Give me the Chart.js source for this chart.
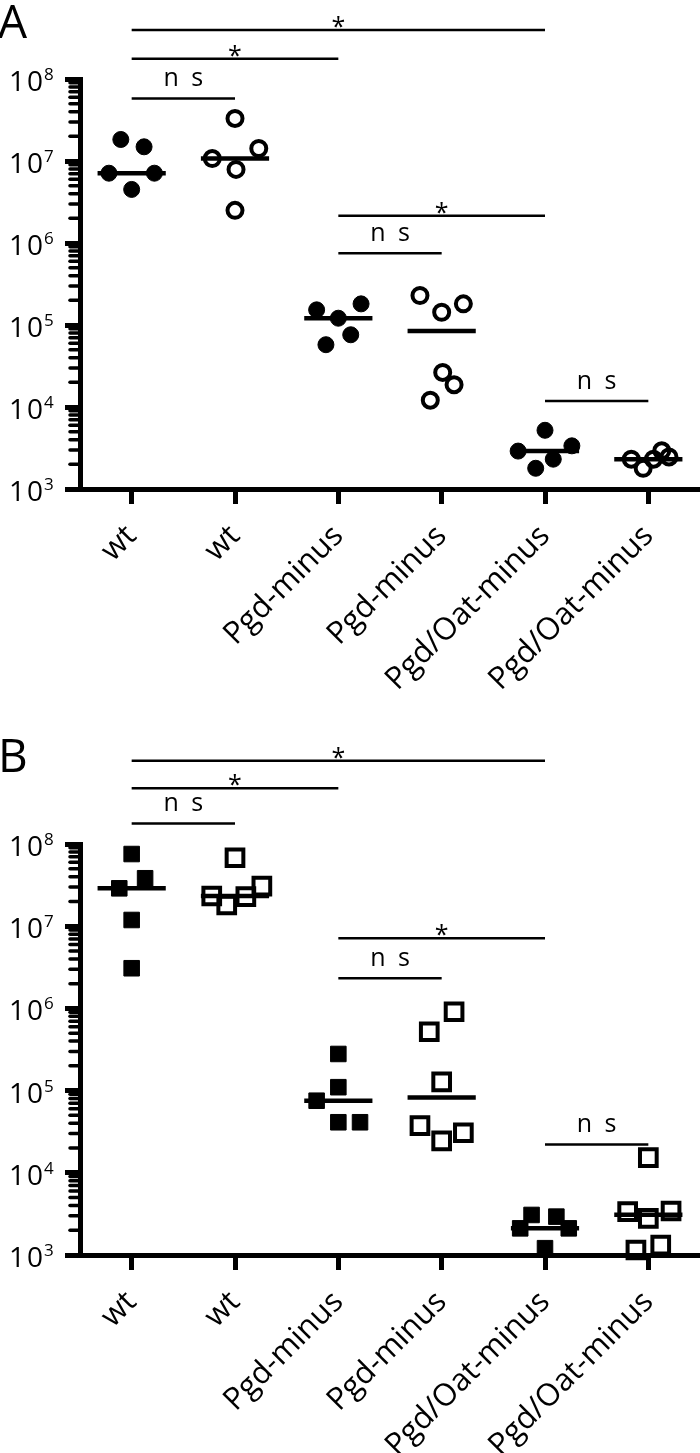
<!DOCTYPE html>
<html>
<head>
<meta charset="utf-8">
<script src="https://cdn.jsdelivr.net/npm/chart.js@4.4.1/dist/chart.umd.min.js"></script>
<style>
  html, body { margin: 0; padding: 0; background: #fff; }
  canvas { display: block; }
</style>
</head>
<body>
<canvas id="chartA" width="700" height="727"></canvas>
<canvas id="chartB" width="700" height="726"></canvas>
<script>
const categories = ['wt', 'wt', 'Pgd-minus', 'Pgd-minus', 'Pgd/Oat-minus', 'Pgd/Oat-minus'];
const yTickValues = [1e3, 1e4, 1e5, 1e6, 1e7, 1e8];

// panel A, circles (filled / open alternate)
const wtFilledA = [1.83e7, 1.49e7, 7.1e6, 7.1e6, 4.5e6];
const wtOpenA = [3.3e7, 1.42e7, 1.07e7, 7.9e6, 2.5e6];
const pgdFilledA = [1.53e5, 1.21e5, 1.81e5, 7.6e4, 5.75e4];
const pgdOpenA = [2.29e5, 1.43e5, 1.81e5, 2.64e4, 1.87e4, 1.21e4];
const pgdOatFilledA = [5.2e3, 2.9e3, 3.36e3, 2.31e3, 1.79e3];
const pgdOatOpenA = [2.31e3, 1.79e3, 2.31e3, 2.92e3, 2.46e3];

// horizontal scatter of the dots, in category widths
const jitterA = [
  [-0.105, 0.12, -0.22, 0.22, 0],
  [0, 0.23, -0.22, 0.01, 0],
  [-0.21, 0, 0.22, 0.12, -0.12],
  [-0.21, 0, 0.21, 0.01, 0.12, -0.11],
  [0, -0.26, 0.26, 0.08, -0.09],
  [-0.165, -0.05, 0.05, 0.13, 0.2]
];

// panel B, squares
const wtFilledB = [7.55e7, 3.83e7, 2.89e7, 1.19e7, 3.08e6];
const wtOpenB = [6.8e7, 2.33e7, 1.81e7, 2.29e7, 3.08e7];
const pgdFilledB = [2.79e5, 1.1e5, 7.53e4, 4.12e4, 4.12e4];
const pgdOpenB = [9.1e5, 5.2e5, 1.28e5, 3.74e4, 2.45e4, 3.07e4];
const pgdOatFilledB = [3.07e3, 2.93e3, 2.11e3, 2.11e3, 1.21e3];
const pgdOatOpenB = [3.37e3, 2.79e3, 3.43e3, 1.53e4, 1.15e3, 1.32e3];

const jitterB = [
  [0, 0.13, -0.12, 0, 0],
  [0, -0.225, -0.08, 0.105, 0.26],
  [0, 0, -0.21, 0, 0.21],
  [0.12, -0.12, 0, -0.21, 0, 0.21],
  [-0.13, 0.11, -0.24, 0.23, 0],
  [-0.2, 0, 0.22, 0, -0.12, 0.12]
];

// significance comparisons (category numbers), their labels and bar heights
const sigPairs = [[1, 5], [1, 3], [1, 2], [3, 5], [3, 4], [5, 6]];
const sigLabels = ['*', '*', 'n s', '*', 'n s', 'n s'];
const sigHeightsA = [3.96e8, 1.77e8, 5.8e7, 2.15e6, 7.5e5, 1.18e4];
const sigHeightsB = [1.03e9, 4.76e8, 1.78e8, 7.13e6, 2.32e6, 2.21e4];

function median(arr) {
  const s = arr.slice().sort((a, b) => a - b);
  const m = Math.floor(s.length / 2);
  return s.length % 2 ? s[m] : (s[m - 1] + s[m]) / 2;
}

function buildDatasets(groups, jitters, shape, heights) {
  const ds = [];
  groups.forEach((vals, i) => {
    const filled = i % 2 === 0;
    let r;
    if (shape === 'circle') r = filled ? 8 : 7.5;
    else r = filled ? 11 : 11.8;
    ds.push({
      data: vals.map((v, j) => ({ x: i + 1 + jitters[i][j], y: v })),
      showLine: false,
      pointStyle: shape,
      pointRadius: r,
      pointBorderWidth: filled ? 1 : 4,
      pointBackgroundColor: filled ? '#000' : 'rgba(0,0,0,0)',
      pointBorderColor: '#000',
      clip: false
    });
    const med = median(vals);
    ds.push({
      data: [{ x: i + 1 - 0.33, y: med }, { x: i + 1 + 0.33, y: med }],
      showLine: true,
      borderColor: '#000',
      borderWidth: 4.5,
      pointRadius: 0,
      clip: false
    });
  });
  sigPairs.forEach((p, i) => {
    ds.push({
      data: [{ x: p[0], y: heights[i] }, { x: p[1], y: heights[i] }],
      showLine: true,
      borderColor: '#000',
      borderWidth: 2.5,
      pointRadius: 0,
      clip: false
    });
  });
  return ds;
}

const decorations = {
  id: 'decorations',
  afterDraw(chart) {
    const ctx = chart.ctx;
    const xs = chart.scales.x;
    const ys = chart.scales.y;
    const opts = chart.options.plugins.decorations;
    const left = chart.chartArea.left;
    ctx.save();
    ctx.fillStyle = '#000';
    ctx.strokeStyle = '#000';

    // minor ticks on the log axis
    ctx.lineWidth = 3.5;
    ctx.lineCap = 'round';
    for (let e = 3; e < 8; e++) {
      for (let k = 2; k <= 9; k++) {
        const py = ys.getPixelForValue(k * Math.pow(10, e));
        ctx.beginPath();
        ctx.moveTo(left - 10, py);
        ctx.lineTo(left - 2, py);
        ctx.stroke();
      }
    }

    // y tick labels 10^n
    yTickValues.forEach(v => {
      const py = ys.getPixelForValue(v);
      ctx.font = '28px "Open Sans"';
      ctx.textAlign = 'right';
      ctx.textBaseline = 'alphabetic';
      ctx.letterSpacing = '2px';
      ctx.fillText('10', 45, py + 12);
      ctx.letterSpacing = '0px';
      ctx.font = '17px "Open Sans"';
      ctx.textAlign = 'left';
      ctx.fillText(String(Math.round(Math.log10(v))), 44, py + 1);
    });

    // significance labels
    sigPairs.forEach((p, i) => {
      const px = xs.getPixelForValue((p[0] + p[1]) / 2);
      const py = ys.getPixelForValue(opts.heights[i]);
      ctx.textAlign = 'center';
      ctx.textBaseline = 'alphabetic';
      ctx.font = '25px "Open Sans"';
      if (sigLabels[i] === '*') {
        ctx.fillText(sigLabels[i], px, py + 5);
      } else {
        ctx.letterSpacing = '3px';
        ctx.fillText(sigLabels[i], px + 1.5, py - 12);
        ctx.letterSpacing = '0px';
      }
    });

    // panel letter
    ctx.font = '46px "Open Sans"';
    ctx.textAlign = 'left';
    ctx.fillText(opts.letter, -2, opts.letterY);
    ctx.restore();
  }
};

function makeChart(id, groups, jitters, shape, heights, letter, letterY, padTop, axisHeight) {
  return new Chart(document.getElementById(id), {
    type: 'scatter',
    data: { datasets: buildDatasets(groups, jitters, shape, heights) },
    options: {
      responsive: false,
      animation: false,
      events: [],
      layout: { autoPadding: false, padding: { top: padTop, left: 0, right: 0, bottom: 0 } },
      plugins: {
        legend: { display: false },
        tooltip: { enabled: false },
        decorations: { heights: heights, letter: letter, letterY: letterY }
      },
      scales: {
        x: {
          type: 'linear',
          min: 0.5,
          max: 6.5,
          afterBuildTicks: scale => {
            scale.ticks = categories.map((c, i) => ({ value: i + 1 }));
          },
          afterFit: scale => {
            scale.height = axisHeight;
            scale.paddingLeft = 0;
            scale.paddingRight = 0;
          },
          ticks: {
            autoSkip: false,
            minRotation: 45,
            maxRotation: 45,
            color: '#000',
            padding: 14,
            font: { family: 'Open Sans', size: 31 },
            callback: v => categories[v - 1]
          },
          grid: { drawOnChartArea: false, drawTicks: true, tickLength: 15, tickWidth: 5, tickColor: '#000' },
          border: { display: true, color: '#000', width: 5 }
        },
        y: {
          type: 'logarithmic',
          min: 1e3,
          max: 1e8,
          afterBuildTicks: scale => {
            scale.ticks = yTickValues.map(v => ({ value: v, major: true }));
          },
          afterFit: scale => { scale.width = 80; },
          ticks: { display: false },
          grid: { drawOnChartArea: false, drawTicks: true, tickLength: 15, tickWidth: 5, tickColor: '#000' },
          border: { display: true, color: '#000', width: 5 }
        }
      }
    },
    plugins: [decorations]
  });
}

makeChart('chartA',
  [wtFilledA, wtOpenA, pgdFilledA, pgdOpenA, pgdOatFilledA, pgdOatOpenA],
  jitterA, 'circle', sigHeightsA, 'A', 38, 79, 238);

makeChart('chartB',
  [wtFilledB, wtOpenB, pgdFilledB, pgdOpenB, pgdOatFilledB, pgdOatOpenB],
  jitterB, 'rect', sigHeightsB, 'B', 45, 117, 198);
</script>
</body>
</html>
